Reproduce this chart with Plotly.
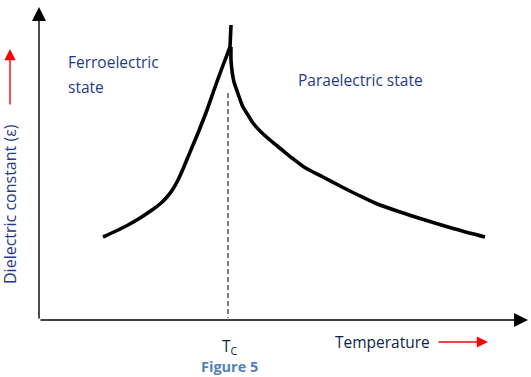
import plotly.graph_objects as go

# Schematic curve, in figure units (x to the right, y downward like the picture)
ferro_x = [103, 116, 128, 140, 152, 160, 167, 173, 178, 183, 188, 198, 207, 214, 222, 230]
ferro_y = [237, 231, 225, 218, 210, 204, 197, 189, 180, 169, 157, 133, 110, 90, 68, 47]
spike_x = [230, 231]
spike_y = [47, 25]
para_x = [231, 231, 232.3, 234, 236.7, 239.5, 243, 248, 253, 261, 270, 281, 292, 304, 323,
          342, 358, 375, 400, 425, 455, 485]
para_y = [47, 60, 73, 82, 90, 98, 107, 115, 123, 132, 140, 149, 158, 167, 177,
          187, 195, 203, 212, 220, 229, 237]
tc_x = [228, 228]
tc_y = [93, 318]

BLUE = "#1F3A87"
FONT = "Open Sans"

fig = go.Figure()
line = dict(color="black", width=3.6)
fig.add_trace(go.Scatter(x=ferro_x, y=ferro_y, mode="lines", line=dict(line, shape="spline", smoothing=0.8)))
fig.add_trace(go.Scatter(x=spike_x, y=spike_y, mode="lines", line=line))
fig.add_trace(go.Scatter(x=para_x, y=para_y, mode="lines", line=dict(line, shape="spline", smoothing=0.8)))
fig.add_trace(go.Scatter(x=tc_x, y=tc_y, mode="lines", line=dict(color="#444", width=1.4, dash="5px,3px")))

def arrow(x0, y0, x1, y1, color, width, size):
    fig.add_annotation(x=x1, y=y1, ax=x0, ay=y0, xref="x", yref="y", axref="x", ayref="y",
                       text="", showarrow=True, arrowhead=2, arrowsize=size,
                       arrowwidth=width, arrowcolor=color)

# axes
arrow(39, 320, 39, 7, "black", 1.4, 2.0)
arrow(39, 320, 528, 320, "black", 1.4, 2.0)
# red direction arrows
arrow(10, 106, 10, 49, "red", 1.4, 1.6)
arrow(437, 342, 488, 342, "red", 1.4, 1.6)

def text(x, y, s, size=15.5, color=BLUE, anchor="left", angle=0):
    fig.add_annotation(x=x, y=y, xref="x", yref="y", text=s, showarrow=False,
                       xanchor=anchor, yanchor="middle", textangle=angle,
                       font=dict(family=FONT, size=size, color=color))

text(66, 62, "Ferroelectric")
text(66, 87, "state")
text(296, 80, "Paraelectric state")
text(10, 204, "Dielectric constant (ε)", anchor="center", angle=-90, size=16)
text(333, 342, "Temperature", color="#0D1F4A")
text(230, 346, "T<sub>C</sub>", anchor="center", color="#0D1F4A")
text(229, 366, "<b>Figure 5</b>", anchor="center", color="#4F81BD", size=14.5)

fig.update_layout(
    width=531, height=377, margin=dict(l=0, r=0, t=0, b=0),
    paper_bgcolor="white", plot_bgcolor="white", showlegend=False,
    xaxis=dict(range=[0, 531], visible=False, fixedrange=True),
    yaxis=dict(range=[377, 0], visible=False, fixedrange=True),
)
fig.write_html("out.html", config={"displayModeBar": False},
               post_script="document.body.style.margin='0';document.body.style.overflow='hidden';")
